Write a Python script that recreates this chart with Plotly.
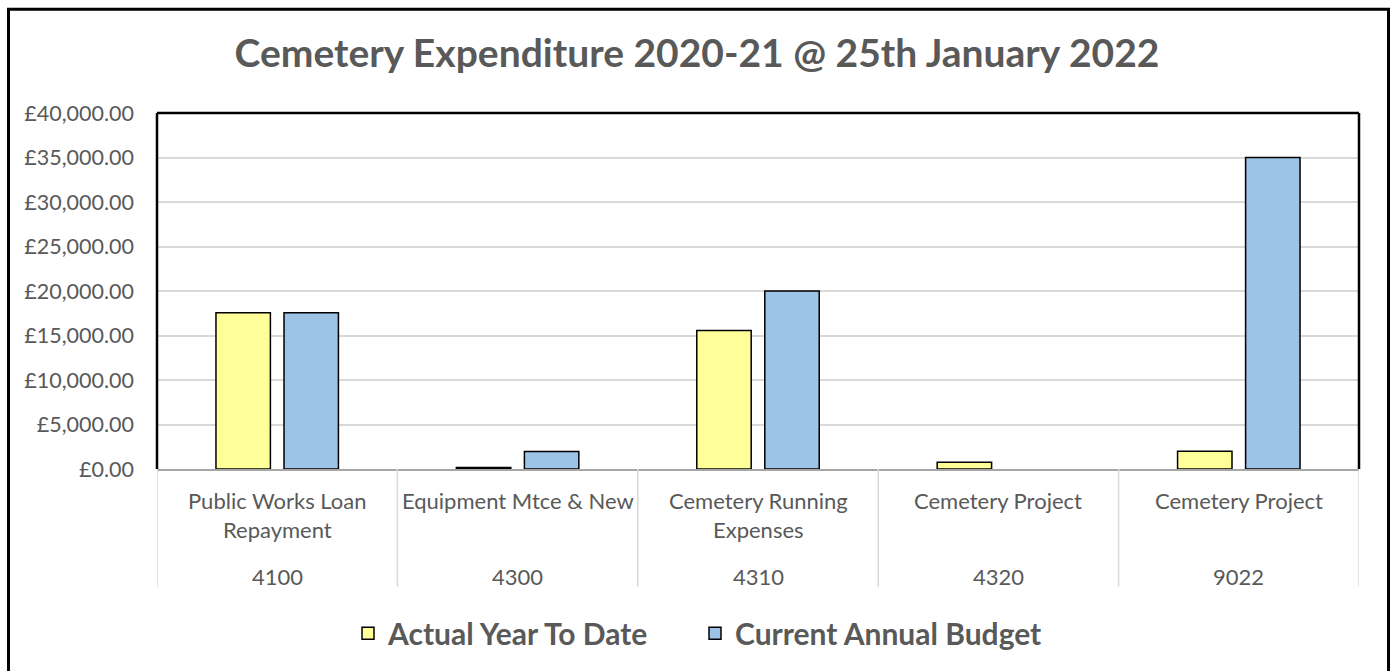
import plotly.graph_objects as go

codes = ["4100", "4300", "4310", "4320", "9022"]
names = ["Public Works Loan\nRepayment", "Equipment Mtce & New",
         "Cemetery Running\nExpenses", "Cemetery Project", "Cemetery Project"]
actual = [17550, 170, 15550, 750, 2000]
budget = [17550, 1980, 20000, None, 35000]
series_names = ["Actual Year To Date", "Current Annual Budget"]
title_text = "Cemetery Expenditure 2020-21 @ 25th January 2022"

FONT = "Lato"
GREY = "#595959"

fig = go.Figure()
fig.add_trace(go.Bar(x=codes, y=actual, name=series_names[0],
                     marker=dict(color="#FFFF99", line=dict(color="black", width=1.5))))
fig.add_trace(go.Bar(x=codes, y=budget, name=series_names[1],
                     marker=dict(color="#9DC3E6", line=dict(color="black", width=1.5))))

L, R, T, B = 157, 35, 113, 198
W, H = 1394, 671
pw, ph = W - L - R, H - T - B

def px(xp):
    return (xp - L) / pw

def py(yp):
    return (H - B - yp) / ph

fig.update_layout(
    width=W, height=H,
    margin=dict(l=L, r=R, t=T, b=B, pad=0),
    paper_bgcolor="white", plot_bgcolor="white",
    font=dict(family=FONT, color=GREY, size=22),
    title=dict(text="<b>" + title_text + "</b>", x=0.5, xref="container", xanchor="center",
               y=1 - 53 / H, yref="container", yanchor="middle",
               font=dict(size=39, color=GREY, family=FONT)),
    barmode="group", bargap=0.434, bargroupgap=0.2,
    showlegend=True,
    legend=dict(orientation="h", x=px(348), xanchor="left", y=py(639), yanchor="middle",
                font=dict(size=30, color=GREY, family=FONT, weight="bold"), traceorder="normal",
                itemwidth=30, entrywidth=302, entrywidthmode="pixels"),
    xaxis=dict(type="category", showgrid=False, showline=True, linecolor="#A6A6A6",
               linewidth=1.5, ticks="", showticklabels=False, range=[-0.5, len(codes) - 0.5]),
    yaxis=dict(range=[0, 40000], dtick=5000, tickprefix="£", tickformat=",.2f",
               showgrid=True, gridcolor="#D9D9D9", gridwidth=1.5, zeroline=False,
               showline=False, ticks="", ticklabelstandoff=22,
               tickfont=dict(size=21.5, color=GREY, family=FONT)),
)

# category labels (two-level axis drawn as annotations on the category scale;
# annotation x on a category axis is the category's serial index)
for i, (code, name) in enumerate(zip(codes, names)):
    for j, line in enumerate(name.split("\n")):
        fig.add_annotation(x=i, xref="x", y=py(505 + 29 * j), yref="paper",
                           text=line, showarrow=False, xanchor="center", yanchor="middle",
                           font=dict(size=22, color=GREY, family=FONT))
    fig.add_annotation(x=i, xref="x", y=py(582), yref="paper",
                       text=code, showarrow=False, xanchor="center", yanchor="middle",
                       font=dict(size=22, color=GREY, family=FONT))

# dividers between categories
for i in range(len(codes) + 1):
    fig.add_shape(type="line", xref="x", yref="paper", x0=i - 0.5, x1=i - 0.5,
                  y0=py(592), y1=0, line=dict(color="#D9D9D9", width=1.5))

# plot-area frame (left, top, right)
for (x0, x1, y0, y1) in [(0, 0, 0, 1), (0, 1, 1, 1), (1, 1, 0, 1)]:
    fig.add_shape(type="line", xref="paper", yref="paper", x0=x0, x1=x1, y0=y0, y1=y1,
                  line=dict(color="black", width=2.5))
# outer chart frame
fig.add_shape(type="rect", xref="paper", yref="paper",
              x0=px(8.5), x1=px(1388.5), y0=py(690), y1=py(8),
              line=dict(color="black", width=3), fillcolor="rgba(0,0,0,0)")

fig.write_html("out.html")
